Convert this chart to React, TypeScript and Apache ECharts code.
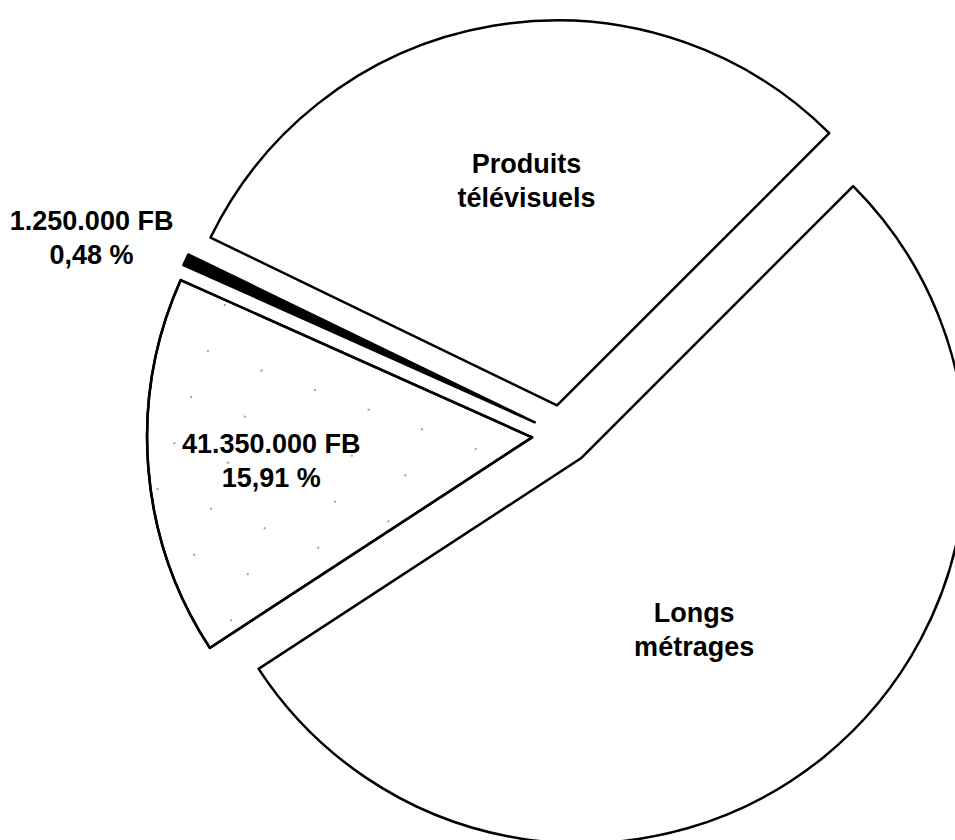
import React, { useEffect, useRef } from "react";
import * as echarts from "echarts";

// Slices, clockwise from the upper-right edge
const categories = ["Longs métrages", "Autres (41.350.000 FB)", "Autres (1.250.000 FB)", "Produits télévisuels"];
const values = [138500000, 41350000, 1250000, 78800000];
const labelTexts = [
  "Longs\nmétrages",
  "41.350.000 FB\n15,91 %",
  "1.250.000 FB\n0,48 %",
  "Produits\ntélévisuels",
];

export default function App() {
  const ref = useRef<HTMLDivElement>(null);

  useEffect(() => {
    if (!ref.current) return;
    const chart = echarts.init(ref.current, undefined, { renderer: "svg" });

    const fills = ["#ffffff", "#ffffff", "#000000", "#ffffff"];
    const shifts: [number, number][] = [
      [-10, 20],
      [-66, 8],
      [-266, -102],
      [2, -32],
    ];

    const data = categories.map((name, i) => ({
      name,
      value: values[i],
      selected: true,
      itemStyle:
        i === 1
          ? {
              color: "#ffffff",
              decal: {
                symbol: "rect",
                symbolSize: 1,
                dashArrayX: [2, 55],
                dashArrayY: [2, 47],
                rotation: 0.35,
                color: "#a0a0a0",
              },
            }
          : { color: fills[i] },
      label: {
        show: true,
        position: "inside",
        formatter: labelTexts[i],
      },
    }));

    chart.setOption({
      animation: false,
      backgroundColor: "#ffffff",
      series: [
        {
          type: "pie",
          center: [562, 435],
          radius: [0, 385],
          startAngle: 45,
          clockwise: true,
          selectedMode: "multiple",
          selectedOffset: 30,
          avoidLabelOverlap: false,
          silent: true,
          itemStyle: {
            borderColor: "#000000",
            borderWidth: 2.5,
          },
          label: {
            color: "#000000",
            fontFamily: "Liberation Sans",
            fontWeight: "bold",
            fontSize: 27,
            lineHeight: 34,
            align: "center",
          },
          labelLayout: (params: any) => {
            const s = shifts[params.dataIndex] || [0, 0];
            return { dx: s[0], dy: s[1] };
          },
          labelLine: { show: false },
          emphasis: { disabled: true },
          select: {
            itemStyle: { borderColor: "#000000", borderWidth: 2.5 },
            label: { color: "#000000" },
          },
          data,
        },
      ],
    });

    return () => chart.dispose();
  }, []);

  return (
    <div
      ref={ref}
      style={{ position: "absolute", left: 0, top: 0, width: 955, height: 840 }}
    />
  );
}
